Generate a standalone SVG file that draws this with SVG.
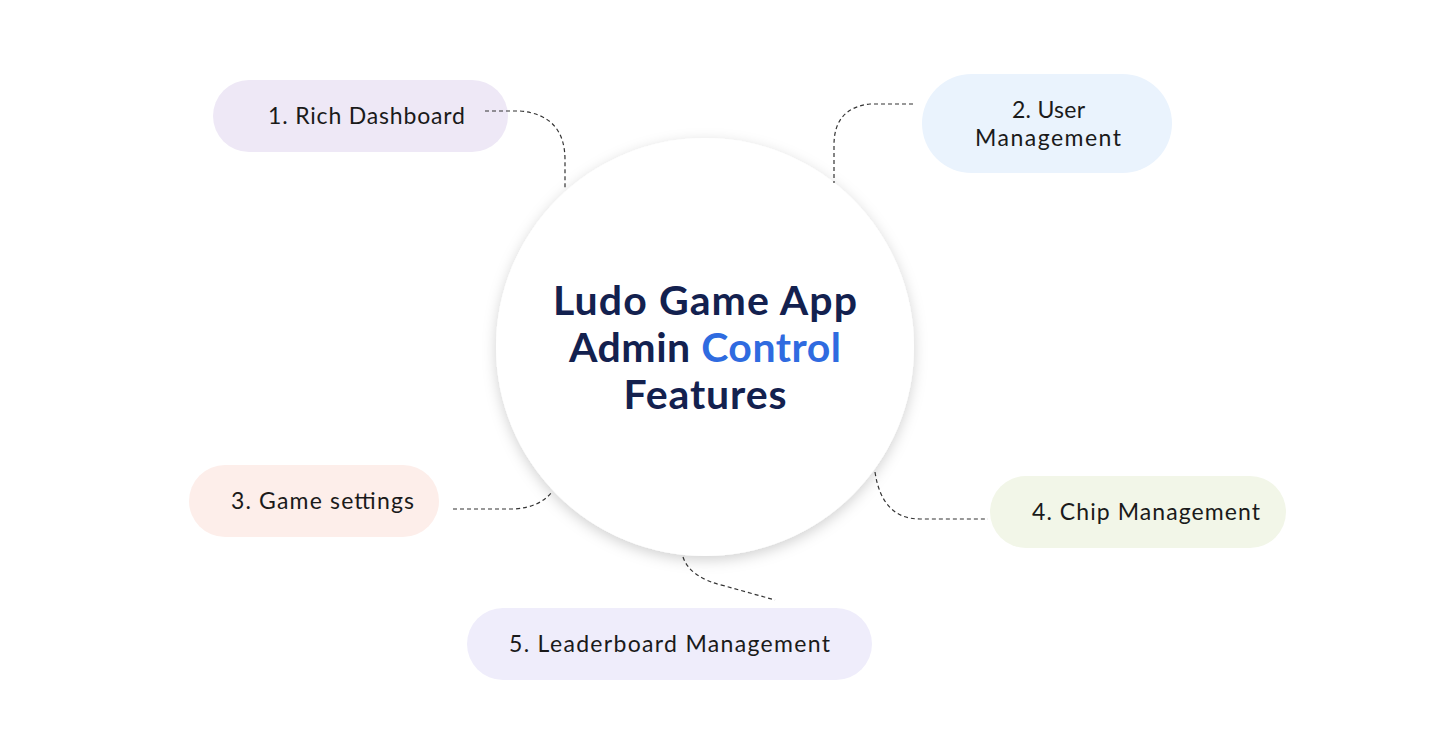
<svg xmlns="http://www.w3.org/2000/svg" width="1439" height="754" viewBox="0 0 1439 754">
<defs>
<filter id="sh" x="-20%" y="-20%" width="140%" height="140%">
<feDropShadow dx="0" dy="4" stdDeviation="7" flood-color="#000" flood-opacity="0.18"/>
</filter>
<style>
.lbl{font-family:Lato,"Open Sans",sans-serif;font-size:23px;fill:#1a1a1a;}
.ttl{font-family:Lato,"Open Sans",sans-serif;font-size:41px;font-weight:bold;fill:#13214f;text-anchor:middle;}
.con{fill:none;stroke:#333;stroke-width:1.2;stroke-dasharray:4 3;}
</style>
</defs>
<rect width="1439" height="754" fill="#fff"/>
<g id="center">
<circle cx="705" cy="347" r="209" fill="#fff" filter="url(#sh)"/>
<text class="ttl" x="705" y="315" textLength="304" lengthAdjust="spacing">Ludo Game App</text>
<text class="ttl" x="705" y="362" textLength="272" lengthAdjust="spacing">Admin <tspan fill="#2f6be0">Control</tspan></text>
<text class="ttl" x="705" y="409" textLength="163" lengthAdjust="spacing">Features</text>
</g>
<g id="n1">
<rect x="213" y="80" width="295" height="72" rx="36" fill="#eee8f6"/>
<text class="lbl" x="268" y="124" textLength="197" lengthAdjust="spacing">1. Rich Dashboard</text>
</g>
<g id="n2">
<rect x="922" y="74" width="250" height="99" rx="49.5" fill="#eaf3fd"/>
<text class="lbl" x="1012" y="118" textLength="73" lengthAdjust="spacing">2. User</text>
<text class="lbl" x="975" y="146" textLength="146" lengthAdjust="spacing">Management</text>
</g>
<g id="n3">
<rect x="189" y="465" width="250" height="72" rx="36" fill="#fdeeea"/>
<text class="lbl" x="231" y="509" textLength="183" lengthAdjust="spacing">3. Game settings</text>
</g>
<g id="n4">
<rect x="990" y="476" width="296" height="72" rx="36" fill="#f2f6e8"/>
<text class="lbl" x="1032" y="520" textLength="228" lengthAdjust="spacing">4. Chip Management</text>
</g>
<g id="n5">
<rect x="467" y="608" width="405" height="72" rx="36" fill="#efedfb"/>
<text class="lbl" x="509" y="652" textLength="321" lengthAdjust="spacing">5. Leaderboard Management</text>
</g>
<g id="connectors">
<path class="con" d="M485,111 L520,111 Q565,115 565,160 L565,190"/>
<path class="con" d="M913,104 L870,104 Q834,108 834,145 L834,183"/>
<path class="con" d="M453,509 L515,509 Q540,507 552,492"/>
<path class="con" d="M875,472 Q882,519 920,519 L988,519"/>
<path class="con" d="M683,557 Q690,578 725,586 L775,600"/>
</g>
</svg>
